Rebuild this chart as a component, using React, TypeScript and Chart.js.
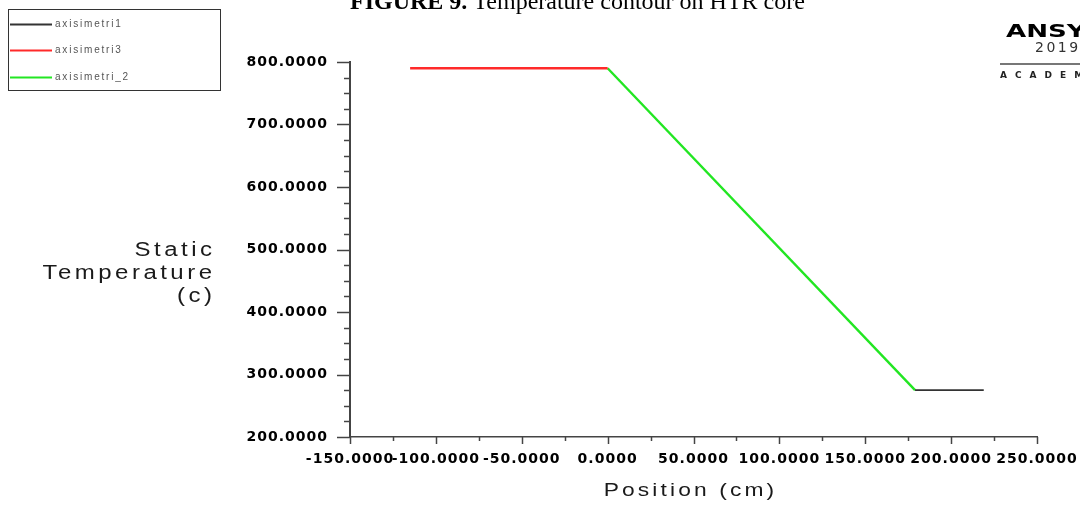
import React, { useEffect, useRef } from 'react';
import { Chart, registerables } from 'chart.js';

Chart.register(...registerables);

// ---- data ----
const SERIES_NAMES = ['axisimetri1', 'axisimetri3', 'axisimetri_2'];
const SERIES_COLORS = ['#333333', '#ff2a2a', '#22e622'];
const BLACK_X = [179, 219];
const BLACK_Y = [275, 275];
const RED_X = [-115, 0];
const RED_Y = [790, 790];
const GREEN_X = [0, 179];
const GREEN_Y = [790, 275];

const X_MAJOR_TICKS = [-150, -100, -50, 0, 50, 100, 150, 200, 250];
const Y_MAJOR_TICKS = [200, 300, 400, 500, 600, 700, 800];
const Y_TITLE_LINES = ['Static', 'Temperature', '(c)'];
const X_TITLE = 'Position (cm)';
const FIG_TITLE_BOLD = 'FIGURE 9.';
const FIG_TITLE_REST = ' Temperature contour on HTR core';

const SANS = '"Liberation Sans", Arial, sans-serif';
const TICK_FAMILY = '"DejaVu Sans", sans-serif';
const AXIS_COLOR = '#444444';

const toPoints = (xs: number[], ys: number[]) => xs.map((x, i) => ({ x, y: ys[i] }));

// draws text stretched horizontally, anchored by align at (x, y)
function stretchedText(ctx: any, text: string, x: number, y: number, sx: number, align: 'left' | 'right' | 'center') {
  ctx.save();
  ctx.textAlign = 'left';
  const w = ctx.measureText(text).width * sx;
  const x0 = align === 'left' ? x : align === 'right' ? x - w : x - w / 2;
  ctx.translate(x0, y);
  ctx.scale(sx, 1);
  ctx.fillText(text, 0, 0);
  ctx.restore();
}

const decorPlugin = {
  id: 'decor',
  beforeDraw(chart: any) {
    (chart.ctx as any).letterSpacing = '1px';
  },
  afterDraw(chart: any) {
    const ctx = chart.ctx as any;
    const xs = chart.scales.x;
    const ys = chart.scales.y;
    const area = chart.chartArea;
    ctx.save();
    ctx.letterSpacing = '0px';

    // tick marks (major + minor)
    ctx.strokeStyle = AXIS_COLOR;
    ctx.lineWidth = 1.5;
    ys.ticks.forEach((t: any) => {
      const p = Math.round(ys.getPixelForValue(t.value)) + 0.5;
      const len = Y_MAJOR_TICKS.includes(t.value) ? 13 : 6;
      ctx.beginPath();
      ctx.moveTo(area.left - len, p);
      ctx.lineTo(area.left, p);
      ctx.stroke();
    });
    xs.ticks.forEach((t: any) => {
      const p = Math.round(xs.getPixelForValue(t.value)) + 0.5;
      const len = X_MAJOR_TICKS.includes(t.value) ? 7 : 4;
      ctx.beginPath();
      ctx.moveTo(p, area.bottom);
      ctx.lineTo(p, area.bottom + len);
      ctx.stroke();
    });

    // y axis title (horizontal, right aligned)
    ctx.fillStyle = '#1a1a1a';
    ctx.font = `20px ${SANS}`;
    ctx.textBaseline = 'middle';
    ctx.letterSpacing = '2.9px';
    const yl = [250, 273, 296];
    Y_TITLE_LINES.forEach((s, i) => stretchedText(ctx, s, 215.5, yl[i], 1.2, 'right'));

    // x axis title
    ctx.font = `19px ${SANS}`;
    ctx.textBaseline = 'alphabetic';
    ctx.letterSpacing = '2.6px';
    stretchedText(ctx, X_TITLE, (area.left + area.right) / 2 - 3, 496, 1.2, 'center');

    // legend box
    ctx.letterSpacing = '0px';
    ctx.strokeStyle = '#333';
    ctx.lineWidth = 1;
    ctx.strokeRect(8.5, 9.5, 212, 81);
    const ly = [24, 50, 77];
    chart.data.datasets.forEach((ds: any, i: number) => {
      ctx.strokeStyle = ds.borderColor;
      ctx.lineWidth = 2;
      ctx.beginPath();
      ctx.moveTo(10, ly[i] + 0.5);
      ctx.lineTo(52, ly[i] + 0.5);
      ctx.stroke();
      ctx.fillStyle = '#555';
      ctx.font = `10px ${SANS}`;
      ctx.textAlign = 'left';
      ctx.textBaseline = 'middle';
      ctx.letterSpacing = '1.8px';
      ctx.fillText(ds.label, 55, ly[i]);
      ctx.letterSpacing = '0px';
    });

    // figure title (cut at top)
    ctx.fillStyle = '#000';
    ctx.textAlign = 'left';
    ctx.textBaseline = 'alphabetic';
    ctx.font = 'bold 24px "Liberation Serif", "Times New Roman", serif';
    ctx.fillText(FIG_TITLE_BOLD, 350, 9);
    const bw = ctx.measureText(FIG_TITLE_BOLD).width;
    ctx.font = '24px "Liberation Serif", "Times New Roman", serif';
    ctx.fillText(FIG_TITLE_REST, 350 + bw, 9);

    // ANSYS logo
    ctx.save();
    ctx.translate(1006, 37);
    ctx.scale(1.45, 1);
    ctx.font = 'bold 18px "DejaVu Sans", sans-serif';
    ctx.fillStyle = '#000';
    ctx.fillText('ANSYS', 0, 0);
    ctx.restore();
    ctx.font = `14px "DejaVu Sans", sans-serif`;
    ctx.fillStyle = '#333';
    ctx.letterSpacing = '2.5px';
    ctx.textBaseline = 'middle';
    ctx.fillText('2019', 1035, 48);
    ctx.strokeStyle = '#777';
    ctx.lineWidth = 2;
    ctx.beginPath();
    ctx.moveTo(1000, 64);
    ctx.lineTo(1080, 64);
    ctx.stroke();
    ctx.font = `bold 9px "DejaVu Sans", sans-serif`;
    ctx.fillStyle = '#222';
    ctx.letterSpacing = '8px';
    ctx.fillText('ACADEMIC', 1000, 76);

    ctx.restore();
  },
};

export default function App() {
  const ref = useRef<HTMLCanvasElement | null>(null);
  useEffect(() => {
    if (!ref.current) return;
    const tickFont = { family: TICK_FAMILY, size: 14, weight: 'bold' as const };
    const chart = new Chart(ref.current, {
      type: 'line',
      data: {
        datasets: [
          { label: SERIES_NAMES[0], data: toPoints(BLACK_X, BLACK_Y), borderColor: SERIES_COLORS[0], borderWidth: 1.6 },
          { label: SERIES_NAMES[1], data: toPoints(RED_X, RED_Y), borderColor: SERIES_COLORS[1], borderWidth: 2.4 },
          { label: SERIES_NAMES[2], data: toPoints(GREEN_X, GREEN_Y), borderColor: SERIES_COLORS[2], borderWidth: 2.4 },
        ],
      },
      options: {
        animation: false,
        responsive: false,
        parsing: false as any,
        elements: { point: { radius: 0 }, line: { tension: 0 } },
        layout: { padding: { left: 0, top: 62, right: 43, bottom: 0 } },
        plugins: { legend: { display: false }, tooltip: { enabled: false }, title: { display: false } },
        scales: {
          x: {
            type: 'linear',
            min: -150,
            max: 250,
            ticks: {
              stepSize: 25,
              autoSkip: false,
              maxRotation: 0,
              minRotation: 0,
              padding: 7,
              color: '#000',
              font: tickFont,
              callback: (v: any) => (X_MAJOR_TICKS.includes(Number(v)) ? Number(v).toFixed(4) : ''),
            },
            grid: { display: false, drawTicks: true, tickLength: 7 },
            border: { display: true, color: AXIS_COLOR, width: 1.5 },
            afterFit: (s: any) => {
              s.height = 68;
              s.paddingLeft = 0;
              s.paddingRight = 0;
            },
          },
          y: {
            type: 'linear',
            min: 200,
            max: 800,
            ticks: {
              stepSize: 25,
              autoSkip: false,
              padding: 9,
              color: '#000',
              font: tickFont,
              callback: (v: any) => (Y_MAJOR_TICKS.includes(Number(v)) ? Number(v).toFixed(4) : ''),
            },
            grid: { display: false, drawTicks: true, tickLength: 13 },
            border: { display: true, color: AXIS_COLOR, width: 2 },
            afterFit: (s: any) => {
              s.width = 350;
              s.paddingTop = 0;
              s.paddingBottom = 0;
            },
          },
        },
      },
      plugins: [decorPlugin],
    });
    return () => chart.destroy();
  }, []);
  return (
    <div style={{ position: 'absolute', left: 0, top: 0, width: 1080, height: 505, background: '#fff', overflow: 'hidden' }}>
      <canvas ref={ref} width={1080} height={505} />
    </div>
  );
}
